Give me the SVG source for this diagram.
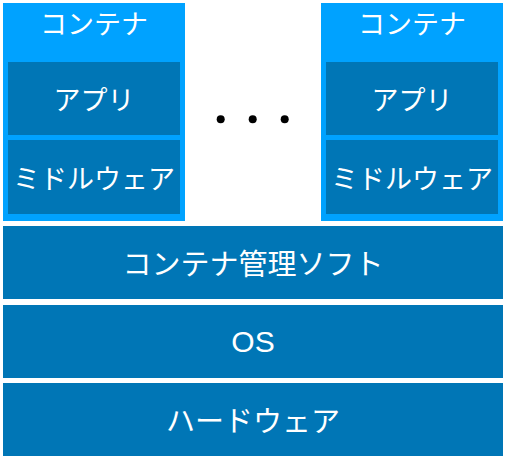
<svg xmlns="http://www.w3.org/2000/svg" width="507" height="459" viewBox="0 0 507 459">
<style>
.outer{fill:#00A2FF}
.inner{fill:#0076B6}
text{fill:#fff;font-family:"Noto Sans CJK JP","Noto Sans",sans-serif;text-anchor:middle;dominant-baseline:central}
.s{font-size:27px}
.l{font-size:29px}
.lat{font-family:"Liberation Sans","Noto Sans CJK JP",sans-serif;font-size:30px}
</style>
<rect width="507" height="459" fill="#fff"/>
<g id="container1">
<rect class="outer" x="3" y="3" width="182" height="218"/>
<text class="s" x="94" y="22">コンテナ</text>
<g id="app1"><rect class="inner" x="8" y="62" width="172" height="73"/><text class="s" x="94" y="98.5">アプリ</text></g>
<g id="mw1"><rect class="inner" x="8" y="140" width="172" height="74"/><text class="s" x="94" y="177">ミドルウェア</text></g>
</g>
<g id="container2">
<rect class="outer" x="321" y="3" width="182" height="218"/>
<text class="s" x="412" y="22">コンテナ</text>
<g id="app2"><rect class="inner" x="326" y="62" width="172" height="73"/><text class="s" x="412" y="98.5">アプリ</text></g>
<g id="mw2"><rect class="inner" x="326" y="140" width="172" height="74"/><text class="s" x="412" y="177">ミドルウェア</text></g>
</g>
<g id="dots" fill="#000">
<circle cx="220.7" cy="119.3" r="4"/>
<circle cx="252.7" cy="119.3" r="4"/>
<circle cx="284.7" cy="119.3" r="4"/>
</g>
<g id="mgmt"><rect class="inner" x="3" y="226" width="500" height="73"/><text class="l" x="253" y="262">コンテナ管理ソフト</text></g>
<g id="os"><rect class="inner" x="3" y="305" width="500" height="73"/><text class="lat" x="253" y="341">OS</text></g>
<g id="hw"><rect class="inner" x="3" y="383" width="500" height="73"/><text class="l" x="253" y="419">ハードウェア</text></g>
<g id="connectors"/>
</svg>
